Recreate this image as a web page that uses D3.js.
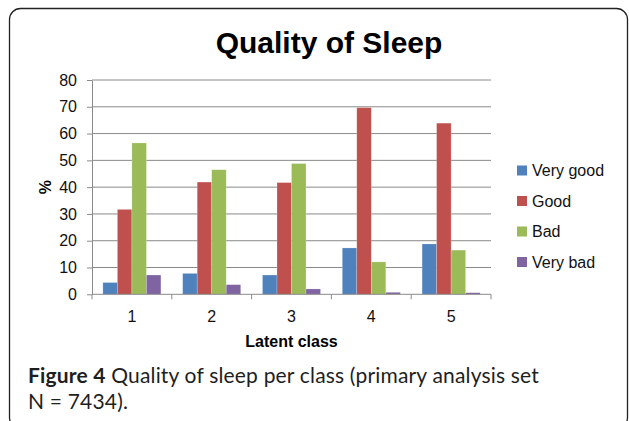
<!DOCTYPE html>
<html>
<head>
<meta charset="utf-8">
<script src="https://cdn.jsdelivr.net/npm/d3@7"></script>
<style>
  html, body { margin: 0; padding: 0; background: #fff; }
  svg { display: block; }
</style>
</head>
<body>
<svg id="chart" width="629" height="421"></svg>
<script>
const classes = ["1", "2", "3", "4", "5"];
const seriesNames = ["Very good", "Good", "Bad", "Very bad"];
const veryGood = [4.4, 7.8, 7.2, 17.3, 18.8];
const good = [31.7, 41.9, 41.7, 69.7, 63.9];
const bad = [56.5, 46.5, 48.8, 12.1, 16.5];
const veryBad = [7.2, 3.6, 2.0, 0.75, 0.6];
const yTicks = [0, 10, 20, 30, 40, 50, 60, 70, 80];
const colors = ["#4F81BD", "#C0504D", "#9BBB59", "#8064A2"];
const titleText = "Quality of Sleep";
const xTitle = "Latent class";
const yTitle = "%";
const captionBold = "Figure 4";
const captionLine1 = " Quality of sleep per class (primary analysis set";
const captionLine2 = "N = 7434).";

const seriesValues = [veryGood, good, bad, veryBad];
const svg = d3.select("#chart");
const font = "'Liberation Sans', Arial, sans-serif";

// frame
svg.append("rect")
  .attr("x", 9.5).attr("y", 8.5)
  .attr("width", 618).attr("height", 420)
  .attr("rx", 11).attr("ry", 11)
  .attr("fill", "none").attr("stroke", "#222").attr("stroke-width", 1.3);

const plot = { left: 92, right: 491, top: 80, bottom: 294.3 };

const x0 = d3.scaleBand().domain(classes).range([plot.left, plot.right]).paddingInner(0).paddingOuter(0);
const x1 = d3.scaleBand().domain(seriesNames).range([0, x0.bandwidth()]).paddingInner(0).paddingOuter(0.75);
const y = d3.scaleLinear().domain([0, 80]).range([plot.bottom, plot.top]);

// gridlines
svg.append("g").selectAll("line").data(yTicks.filter(d => d > 0)).join("line")
  .attr("x1", plot.left).attr("x2", plot.right)
  .attr("y1", d => y(d)).attr("y2", d => y(d))
  .attr("stroke", "#8a8a8a").attr("stroke-width", 1);

// y axis
const yAxis = svg.append("g")
  .attr("transform", `translate(${plot.left},0)`)
  .call(d3.axisLeft(y).tickValues(yTicks).tickSize(5).tickPadding(10).tickSizeOuter(0));
yAxis.select(".domain").attr("stroke", "#8a8a8a");
yAxis.selectAll(".tick line").attr("stroke", "#8a8a8a");
yAxis.selectAll("text").attr("font-family", font).attr("font-size", 16).attr("fill", "#111");

// bars
const groups = svg.append("g").selectAll("g").data(classes).join("g")
  .attr("transform", d => `translate(${x0(d)},0)`);
groups.selectAll("rect")
  .data((c, i) => seriesNames.map((s, j) => ({ s, j, v: seriesValues[j][i] })))
  .join("rect")
  .attr("x", d => x1(d.s))
  .attr("width", x1.bandwidth())
  .attr("y", d => y(d.v))
  .attr("height", d => y(0) - y(d.v))
  .attr("fill", d => colors[d.j])
  .attr("stroke", "rgba(255,255,255,0.35)").attr("stroke-width", 0.6);

// x axis: line plus category boundary ticks
const xAxisG = svg.append("g").attr("transform", `translate(0,${plot.bottom})`);
xAxisG.append("line").attr("x1", plot.left).attr("x2", plot.right)
  .attr("stroke", "#8a8a8a").attr("stroke-width", 1);
const bounds = classes.map(c => x0(c)).concat([x0(classes[classes.length - 1]) + x0.bandwidth()]);
xAxisG.selectAll("line.b").data(bounds).join("line").attr("class", "b")
  .attr("x1", d => d).attr("x2", d => d).attr("y1", 0).attr("y2", 5)
  .attr("stroke", "#8a8a8a").attr("stroke-width", 1);
xAxisG.selectAll("text").data(classes).join("text")
  .attr("x", d => x0(d) + x0.bandwidth() / 2)
  .attr("y", 28)
  .attr("text-anchor", "middle")
  .attr("font-family", font).attr("font-size", 16).attr("fill", "#111")
  .text(d => d);

// axis titles
svg.append("text")
  .attr("x", (plot.left + plot.right) / 2).attr("y", 347)
  .attr("text-anchor", "middle")
  .attr("font-family", font).attr("font-size", 16).attr("font-weight", "bold")
  .text(xTitle);
svg.append("text")
  .attr("transform", `translate(51,${(plot.top + plot.bottom) / 2}) rotate(-90)`)
  .attr("text-anchor", "middle")
  .attr("font-family", font).attr("font-size", 16).attr("font-weight", "bold")
  .text(yTitle);

// title
svg.append("text")
  .attr("x", 329).attr("y", 53)
  .attr("text-anchor", "middle")
  .attr("font-family", font).attr("font-size", 30).attr("font-weight", "bold")
  .text(titleText);

// legend
const legend = svg.append("g").selectAll("g").data(seriesNames).join("g")
  .attr("transform", (d, i) => `translate(517,${170.5 + i * 30.5})`);
legend.append("rect").attr("x", 0).attr("y", -5).attr("width", 10).attr("height", 10)
  .attr("fill", (d, i) => colors[i]);
legend.append("text").attr("x", 15).attr("y", 5.5)
  .attr("font-family", font).attr("font-size", 16).attr("fill", "#111")
  .text(d => d);

// caption
const capFont = "Lato, 'Open Sans', sans-serif";
const cap1 = svg.append("text").attr("x", 28).attr("y", 383)
  .attr("font-family", capFont).attr("font-size", 21).attr("letter-spacing", 0.18)
  .attr("fill", "#1e1e1e");
cap1.append("tspan").attr("font-weight", "bold").text(captionBold);
cap1.append("tspan").text(captionLine1);
svg.append("text").attr("x", 28).attr("y", 408.5)
  .attr("font-family", capFont).attr("font-size", 21).attr("letter-spacing", 0.18)
  .attr("fill", "#1e1e1e")
  .text(captionLine2);
</script>
</body>
</html>
